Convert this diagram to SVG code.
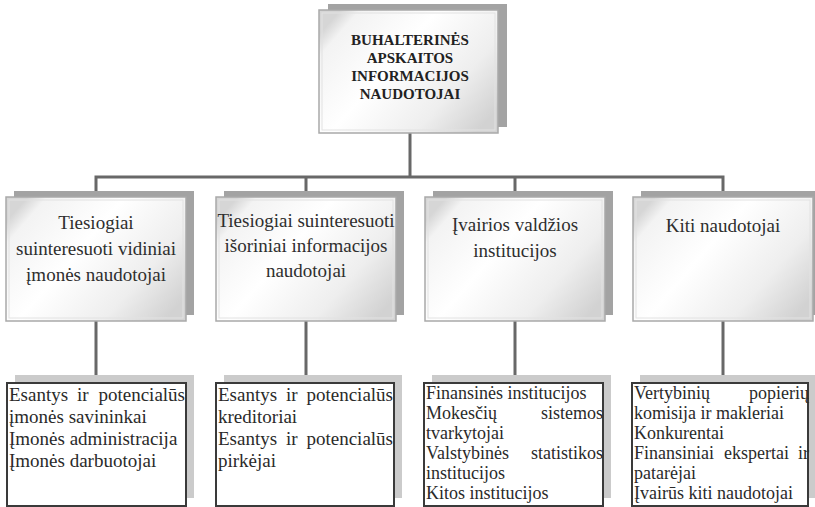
<svg xmlns="http://www.w3.org/2000/svg" width="815" height="507" viewBox="0 0 815 507">
  <defs>
    <linearGradient id="panel" x1="0" y1="0.2" x2="1" y2="0.8">
      <stop offset="0" stop-color="#d6d6d6"/>
      <stop offset="0.08" stop-color="#f3f3f3"/>
      <stop offset="0.4" stop-color="#ffffff"/>
      <stop offset="0.75" stop-color="#eeeeee"/>
      <stop offset="1" stop-color="#d2d2d2"/>
    </linearGradient>
  </defs>
  <style>
    .shadow { fill: #a3a3a3; }
    .lshadow { fill: #cbcbcb; }
    .panel { fill: url(#panel); stroke: #a9a9a9; stroke-width: 1.5; }
    .inner { fill: none; stroke: #e2e2e2; stroke-width: 1; }
    .leaf { fill: #ffffff; stroke: #3a3a3a; stroke-width: 2; }
    .wire { fill: none; stroke: #686868; stroke-width: 3; }
    .title { font-family: "Liberation Serif", "Times New Roman", serif; font-weight: bold; font-size: 15px; fill: #222; text-anchor: middle; }
    .mid { font-family: "Liberation Serif", "Times New Roman", serif; font-size: 19px; fill: #2e2e2e; text-anchor: middle; }
    .lst { font-family: "Liberation Serif", "Times New Roman", serif; font-size: 19px; fill: #2a2a2a; }
    .lsm { font-family: "Liberation Serif", "Times New Roman", serif; font-size: 18px; fill: #2a2a2a; }
    .end { text-anchor: end; }
  </style>

  <!-- connectors -->
  <g id="connectors">
    <path class="wire" d="M410,133 V177 M96,191 V177 H723 V191 M306,177 V191 M515,177 V191"/>
    <path class="wire" d="M96,321 V375 M306,321 V375 M515,321 V375 M723,321 V375"/>
  </g>

  <!-- root -->
  <g id="root">
    <rect class="shadow" x="328" y="4" width="179" height="123"/>
    <rect class="panel" x="319" y="10" width="179" height="123"/>
    <rect class="inner" x="322" y="13" width="173" height="117"/>
    <text class="title" x="410" y="45">BUHALTERINĖS</text>
    <text class="title" x="410" y="63">APSKAITOS</text>
    <text class="title" x="410" y="81">INFORMACIJOS</text>
    <text class="title" x="410" y="99">NAUDOTOJAI</text>
  </g>

  <!-- second level -->
  <g id="internal">
    <rect class="shadow" x="14" y="191" width="180" height="124"/>
    <rect class="panel" x="6" y="197" width="180" height="124"/>
    <rect class="inner" x="9" y="200" width="174" height="118"/>
    <text class="mid" x="96" y="229">Tiesiogiai</text>
    <text class="mid" x="96" y="255">suinteresuoti vidiniai</text>
    <text class="mid" x="96" y="281">įmonės naudotojai</text>
  </g>
  <g id="external">
    <rect class="shadow" x="224" y="191" width="180" height="124"/>
    <rect class="panel" x="216" y="197" width="180" height="124"/>
    <rect class="inner" x="219" y="200" width="174" height="118"/>
    <text class="mid" x="306" y="227">Tiesiogiai suinteresuoti</text>
    <text class="mid" x="306" y="252">išoriniai informacijos</text>
    <text class="mid" x="306" y="277">naudotojai</text>
  </g>
  <g id="government">
    <rect class="shadow" x="433" y="191" width="180" height="124"/>
    <rect class="panel" x="425" y="197" width="180" height="124"/>
    <rect class="inner" x="428" y="200" width="174" height="118"/>
    <text class="mid" x="515" y="231">Įvairios valdžios</text>
    <text class="mid" x="515" y="257">institucijos</text>
  </g>
  <g id="others">
    <rect class="shadow" x="641" y="191" width="180" height="124"/>
    <rect class="panel" x="633" y="197" width="180" height="124"/>
    <rect class="inner" x="636" y="200" width="174" height="118"/>
    <text class="mid" x="723" y="232">Kiti naudotojai</text>
  </g>

  <!-- third level -->
  <g id="owners">
    <rect class="lshadow" x="15" y="375" width="179" height="123"/>
    <rect class="leaf" x="7" y="383" width="179" height="123"/>
    <text class="lst" x="9" y="401">Esantys</text>
    <text class="lst" x="77" y="401">ir</text>
    <text class="lst end" x="185" y="401">potencialūs</text>
    <text class="lst" x="9" y="423">įmonės savininkai</text>
    <text class="lst" x="9" y="445">Įmonės administracija</text>
    <text class="lst" x="9" y="467">Įmonės darbuotojai</text>
  </g>
  <g id="creditors">
    <rect class="lshadow" x="224" y="375" width="178" height="123"/>
    <rect class="leaf" x="216" y="383" width="178" height="123"/>
    <text class="lst" x="218" y="401">Esantys</text>
    <text class="lst" x="286" y="401">ir</text>
    <text class="lst end" x="393" y="401">potencialūs</text>
    <text class="lst" x="218" y="423">kreditoriai</text>
    <text class="lst" x="218" y="445">Esantys</text>
    <text class="lst" x="286" y="445">ir</text>
    <text class="lst end" x="393" y="445">potencialūs</text>
    <text class="lst" x="218" y="467">pirkėjai</text>
  </g>
  <g id="institutions">
    <rect class="lshadow" x="432" y="375" width="179" height="123"/>
    <rect class="leaf" x="424" y="383" width="179" height="123"/>
    <text class="lsm" x="426" y="399">Finansinės institucijos</text>
    <text class="lsm" x="426" y="419">Mokesčių</text>
    <text class="lsm end" x="603" y="419">sistemos</text>
    <text class="lsm" x="426" y="439">tvarkytojai</text>
    <text class="lsm" x="426" y="459">Valstybinės</text>
    <text class="lsm end" x="603" y="459">statistikos</text>
    <text class="lsm" x="426" y="479">institucijos</text>
    <text class="lsm" x="426" y="499">Kitos institucijos</text>
  </g>
  <g id="market">
    <rect class="lshadow" x="640" y="375" width="175" height="123"/>
    <rect class="leaf" x="632" y="383" width="176" height="123"/>
    <text class="lsm" x="634" y="399">Vertybinių</text>
    <text class="lsm end" x="809" y="399">popierių</text>
    <text class="lsm" x="634" y="419">komisija ir makleriai</text>
    <text class="lsm" x="634" y="439">Konkurentai</text>
    <text class="lsm" x="634" y="459">Finansiniai</text>
    <text class="lsm" x="724" y="459">ekspertai</text>
    <text class="lsm end" x="809" y="459">ir</text>
    <text class="lsm" x="634" y="479">patarėjai</text>
    <text class="lsm" x="634" y="499">Įvairūs kiti naudotojai</text>
  </g>
</svg>
